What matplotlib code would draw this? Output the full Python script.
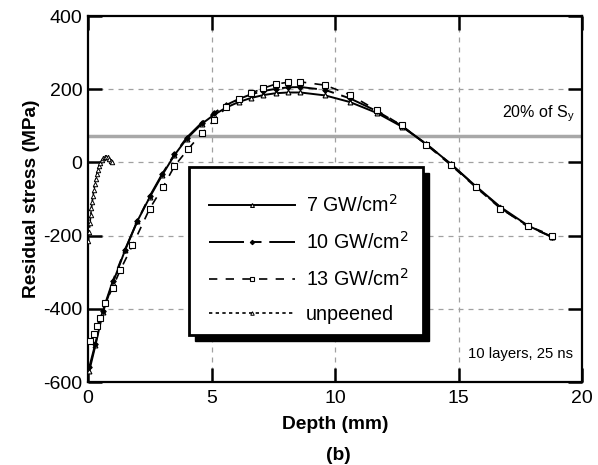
import matplotlib
matplotlib.use('Agg')
import matplotlib.pyplot as plt
from matplotlib.patches import Rectangle

plt.rcParams['font.family'] = ['Liberation Sans', 'DejaVu Sans']
plt.rcParams['axes.unicode_minus'] = False

# ---- data ----
depth_7 = [0.05, 0.3, 0.6, 1.0, 1.5, 2.0, 2.5, 3.0, 3.5, 4.0, 4.6, 5.1, 5.6, 6.1, 6.6,
           7.1, 7.6, 8.1, 8.6, 9.6, 10.6, 11.7, 12.7, 13.7, 14.7, 15.7, 16.7, 17.8, 18.8]
stress_7 = [-570, -500, -410, -330, -240, -160, -95, -35, 20, 65, 105, 130, 150, 165, 176,
            184, 189, 191, 191, 183, 165, 135, 98, 50, -5, -65, -122, -172, -205]

depth_10 = [0.05, 0.3, 0.6, 1.0, 1.5, 2.0, 2.5, 3.0, 3.5, 4.0, 4.6, 5.1, 5.6, 6.1, 6.6,
            7.1, 7.6, 8.1, 8.6, 9.6, 10.6, 11.7, 12.7, 13.7, 14.7, 15.7, 16.7, 17.8, 18.8]
stress_10 = [-560, -495, -405, -325, -238, -160, -92, -32, 22, 68, 108, 135, 157, 173, 186,
             195, 201, 205, 206, 198, 175, 140, 100, 50, -5, -66, -124, -175, -203]

depth_13 = [0.1, 0.25, 0.36, 0.5, 0.7, 1.0, 1.3, 1.8, 2.5, 3.05, 3.5, 4.05, 4.6, 5.1, 5.6,
            6.1, 6.6, 7.1, 7.6, 8.1, 8.6, 9.6, 10.6, 11.7, 12.7, 13.7, 14.7, 15.7, 16.7, 17.8, 18.8]
stress_13 = [-488, -468, -447, -425, -385, -342, -295, -227, -126, -66, -10, 36, 79, 115, 150,
             172, 189, 203, 214, 219, 220, 211, 185, 142, 101, 48, -8, -68, -126, -173, -200]

depth_un = [0.02, 0.05, 0.08, 0.11, 0.14, 0.17, 0.2, 0.24, 0.28, 0.32, 0.36, 0.4, 0.45,
            0.5, 0.56, 0.62, 0.68, 0.74, 0.8, 0.86, 0.92, 0.96]
stress_un = [-215, -190, -165, -145, -125, -108, -92, -75, -58, -44, -31, -20, -10,
             -2, 6, 11, 14, 15, 14, 10, 5, 2]

labels = ['7 GW/cm$^2$', '10 GW/cm$^2$', '13 GW/cm$^2$', 'unpeened']
yield_line = 72
x_ticks = [0, 5, 10, 15, 20]
y_ticks = [-600, -400, -200, 0, 200, 400]

# ---- figure ----
fig = plt.figure(figsize=(5.98, 4.65), dpi=100)
ax = fig.add_axes([88/598, 1-382/465, 494/598, 366/465])

ax.set_xlim(0, 20)
ax.set_ylim(-600, 400)
ax.set_xticks(x_ticks)
ax.set_yticks(y_ticks)

for gx in x_ticks[1:-1]:
    ax.axvline(gx, color='#a0a0a0', lw=0.9, ls=(0, (4, 4)), zorder=0)
for gy in y_ticks[1:-1]:
    ax.axhline(gy, color='#a0a0a0', lw=0.9, ls=(0, (4, 4)), zorder=0)

ax.axhline(yield_line, color='#a8a8a8', lw=2.5, zorder=1)

h7, = ax.plot(depth_7, stress_7, color='k', lw=1.4, ls='-', marker='^', ms=3.5,
              mfc='white', mec='k', mew=0.8, label=labels[0], zorder=3)
h10, = ax.plot(depth_10, stress_10, color='k', lw=1.4, ls=(0, (18, 4, 5, 4)), marker='D', ms=2.8,
               mfc='k', mec='k', mew=0.8, label=labels[1], zorder=3)
h13, = ax.plot(depth_13, stress_13, color='k', lw=1.2, ls=(0, (5, 5)), marker='s', ms=4,
               mfc='white', mec='k', mew=0.8, label=labels[2], zorder=3)
hun, = ax.plot(depth_un, stress_un, color='k', lw=1.2, ls=(0, (2, 2)), marker='^', ms=3.2,
               mfc='white', mec='k', mew=0.7, label=labels[3], zorder=3)

ax.tick_params(direction='in', length=10, width=1.8, labelsize=14, top=True, right=True)
ax.tick_params(axis='x', pad=6)
ax.tick_params(axis='y', pad=4)
for s in ax.spines.values():
    s.set_linewidth(1.6)

ax.set_xlabel('Depth (mm)', fontsize=13.8, fontweight='bold', labelpad=6)
ax.set_ylabel('Residual stress (MPa)', fontsize=13.8, fontweight='bold', labelpad=2)
fig.text(338/598, 1-455/465, '(b)', ha='center', va='center', fontsize=13.8, fontweight='bold')

ax.text(19.7, 134, '20% of S$_\\mathregular{y}$', ha='right', va='center', fontsize=11.5)
ax.text(19.65, -523, '10 layers, 25 ns', ha='right', va='center', fontsize=10.7)

# legend box with solid shadow
bx0, by0, bw, bh = 0.204, 0.128, 0.474, 0.459
off_x, off_y = 6/494, -6/366
shadow = Rectangle((bx0 + off_x, by0 + off_y), bw, bh, transform=ax.transAxes,
                   facecolor='k', edgecolor='k', zorder=5)
box = Rectangle((bx0, by0), bw, bh, transform=ax.transAxes,
                facecolor='white', edgecolor='k', lw=2, zorder=6)
ax.add_patch(shadow)
ax.add_patch(box)

leg = ax.legend(handles=[h7, h10, h13, hun], loc='upper left',
                bbox_to_anchor=(0.245, 0.515), frameon=False, fontsize=14.2,
                handlelength=4.35, labelspacing=0.78, borderpad=0, borderaxespad=0,
                handletextpad=0.55, markerscale=0.8)
leg.set_zorder(7)

fig.savefig('out.png', dpi=100)
